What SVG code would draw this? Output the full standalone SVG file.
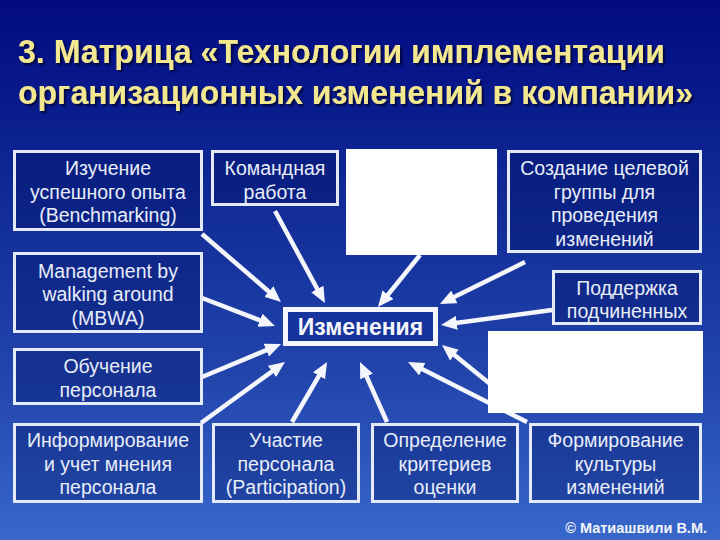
<svg xmlns="http://www.w3.org/2000/svg" width="720" height="540" viewBox="0 0 720 540">
  <defs>
    <linearGradient id="bg" x1="0" y1="0" x2="0" y2="1">
      <stop offset="0" stop-color="#020a82"/>
      <stop offset="0.3" stop-color="#0d2592"/>
      <stop offset="0.7" stop-color="#2245ac"/>
      <stop offset="1" stop-color="#3868cc"/>
    </linearGradient>
    <filter id="sh" x="-5%" y="-30%" width="110%" height="160%">
      <feGaussianBlur in="SourceAlpha" stdDeviation="1"/>
      <feOffset dx="2" dy="2" result="o"/>
      <feFlood flood-color="#000030" flood-opacity="0.85"/>
      <feComposite in2="o" operator="in"/>
      <feMerge><feMergeNode/><feMergeNode in="SourceGraphic"/></feMerge>
    </filter>
    <marker id="arr" viewBox="0 0 10 10" refX="3" refY="5" markerUnits="userSpaceOnUse" markerWidth="16" markerHeight="14" orient="auto" preserveAspectRatio="none">
      <path d="M0,0 L10,5 L0,10 z" fill="#f4f6fb"/>
    </marker>
  </defs>
  <style>
    .box { fill: #001060; fill-opacity: 0.35; stroke: #e4eaf6; stroke-width: 3; }
    .white { fill: #ffffff; }
    .t { font-family: "Liberation Sans", Arial, sans-serif; font-size: 19.5px; fill: #e8edf8; text-anchor: middle; }
    .title { font-family: "Liberation Sans", Arial, sans-serif; font-size: 34px; font-weight: bold; fill: #f3e78f; }
    .conn line { stroke: #f4f6fb; stroke-width: 4.5; marker-end: url(#arr); }
  </style>

  <rect width="720" height="540" fill="url(#bg)"/>

  <g id="title" filter="url(#sh)">
    <text class="title" x="18" y="63" textLength="647" lengthAdjust="spacingAndGlyphs">3. Матрица «Технологии имплементации</text>
    <text class="title" x="18" y="104" textLength="675" lengthAdjust="spacingAndGlyphs">организационных изменений в компании»</text>
  </g>

  <g id="connectors" class="conn">
    <line x1="202" y1="234" x2="272.5" y2="294.7"/>
    <line x1="275" y1="211" x2="319.6" y2="293.2"/>
    <line x1="420" y1="255" x2="385.0" y2="298.3"/>
    <line x1="525" y1="262" x2="450.0" y2="299.0"/>
    <line x1="552" y1="310" x2="452.1" y2="323.5"/>
    <line x1="202" y1="298" x2="264.5" y2="322.0"/>
    <line x1="202" y1="377" x2="270.7" y2="348.3"/>
    <line x1="201" y1="423" x2="275.9" y2="368.6"/>
    <line x1="292" y1="422" x2="321.4" y2="371.7"/>
    <line x1="387" y1="422" x2="364.6" y2="372.2"/>
    <line x1="527" y1="422" x2="418.0" y2="367.0"/>
    <line x1="500" y1="392" x2="450.7" y2="352.1"/>
  </g>

  <g id="n-benchmarking">
    <rect class="box" x="14.5" y="151.5" width="187" height="78"/>
    <text class="t" x="108" y="175">Изучение</text>
    <text class="t" x="108" y="198.5">успешного опыта</text>
    <text class="t" x="108" y="222">(Benchmarking)</text>
  </g>
  <g id="n-team">
    <rect class="box" x="212.5" y="151.5" width="125" height="53"/>
    <text class="t" x="275" y="175">Командная</text>
    <text class="t" x="275" y="198.5">работа</text>
  </g>
  <g id="n-white1">
    <rect class="white" x="346" y="149" width="151" height="106"/>
  </g>
  <g id="n-target-group">
    <rect class="box" x="508.5" y="151.5" width="192" height="100"/>
    <text class="t" x="604.5" y="175">Создание целевой</text>
    <text class="t" x="604.5" y="198.5">группы для</text>
    <text class="t" x="604.5" y="222">проведения</text>
    <text class="t" x="604.5" y="245.5">изменений</text>
  </g>
  <g id="n-mbwa">
    <rect class="box" x="14.5" y="253.5" width="187" height="78"/>
    <text class="t" x="108" y="277.5">Management by</text>
    <text class="t" x="108" y="301">walking around</text>
    <text class="t" x="108" y="324.5">(MBWA)</text>
  </g>
  <g id="n-support">
    <rect class="box" x="553.5" y="271.5" width="147" height="52"/>
    <text class="t" x="627" y="295">Поддержка</text>
    <text class="t" x="627" y="318">подчиненных</text>
  </g>
  <g id="n-center">
    <rect x="285.5" y="309.5" width="150" height="34" fill="#17349c" stroke="#f4f6fb" stroke-width="5"/>
    <text x="360.5" y="335" font-family="Liberation Sans, Arial, sans-serif" font-size="23" font-weight="bold" fill="#f4f6fb" text-anchor="middle">Изменения</text>
  </g>
  <g id="n-white2">
    <rect class="white" x="488" y="331" width="215" height="82"/>
  </g>
  <g id="n-training">
    <rect class="box" x="14.5" y="349.5" width="187" height="54"/>
    <text class="t" x="108" y="373">Обучение</text>
    <text class="t" x="108" y="396.5">персонала</text>
  </g>
  <g id="n-informing">
    <rect class="box" x="14.5" y="424.5" width="187" height="77"/>
    <text class="t" x="108" y="447">Информирование</text>
    <text class="t" x="108" y="470.5">и учет мнения</text>
    <text class="t" x="108" y="494">персонала</text>
  </g>
  <g id="n-participation">
    <rect class="box" x="213.5" y="424.5" width="145" height="77"/>
    <text class="t" x="286" y="447">Участие</text>
    <text class="t" x="286" y="470.5">персонала</text>
    <text class="t" x="286" y="494">(Participation)</text>
  </g>
  <g id="n-criteria">
    <rect class="box" x="372.5" y="424.5" width="145" height="77"/>
    <text class="t" x="445" y="447">Определение</text>
    <text class="t" x="445" y="470.5">критериев</text>
    <text class="t" x="445" y="494">оценки</text>
  </g>
  <g id="n-culture">
    <rect class="box" x="530.5" y="424.5" width="170" height="77"/>
    <text class="t" x="615.5" y="447">Формирование</text>
    <text class="t" x="615.5" y="470.5">культуры</text>
    <text class="t" x="615.5" y="494">изменений</text>
  </g>

  <g id="copyright">
    <text x="707" y="533" font-family="Liberation Sans, Arial, sans-serif" font-size="14.5" font-weight="bold" fill="#f2f4fa" text-anchor="end">© Матиашвили В.М.</text>
  </g>
</svg>
